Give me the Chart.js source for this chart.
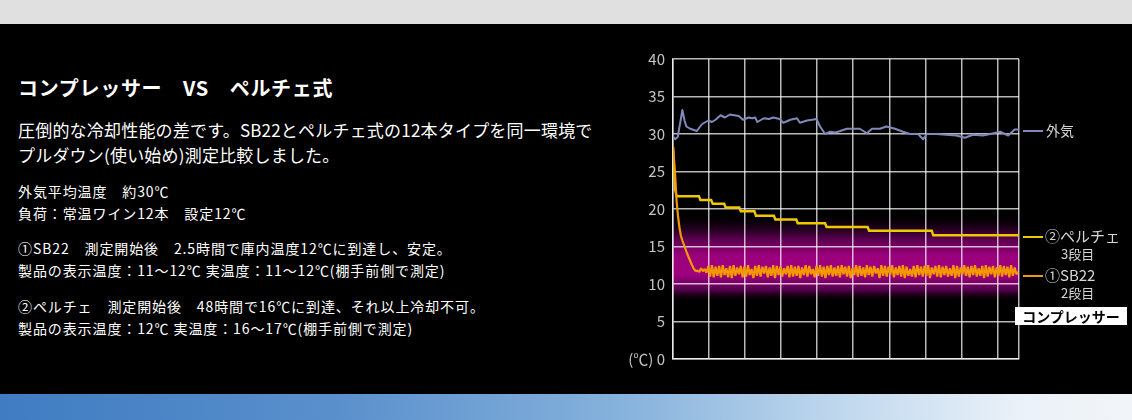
<!DOCTYPE html>
<html lang="ja">
<head>
<meta charset="utf-8">
<title>コンプレッサー VS ペルチェ式</title>
<script src="https://cdn.jsdelivr.net/npm/chart.js@4.4.1/dist/chart.umd.min.js"></script>
<style>
  html, body { margin: 0; padding: 0; background: #000; }
  body { width: 1132px; height: 420px; position: relative; overflow: hidden;
         font-family: "Noto Sans CJK JP", "Noto Sans", sans-serif; color: #fff; }
  #topbar { position: absolute; left: 0; top: 0; width: 1132px; height: 24px; background: #dfe0df; }
  #bottombar { position: absolute; left: 0; top: 394px; width: 1132px; height: 26px;
    background: linear-gradient(to right, #3f7cc2 0%, #5a90cc 30%, #86b2dc 55%, #c2d9ee 75%, #eaf1f8 90%, #f2f5f8 100%); }
  .t { position: absolute; white-space: nowrap; }
  #title { left: 18px; top: 74px; font-size: 20px; font-weight: bold; line-height: 28px; letter-spacing: 0.7px; }
  #lead { left: 18px; top: 117px; font-size: 17px; line-height: 25px; letter-spacing: 0.2px; }
  .small { font-size: 14px; line-height: 22px; left: 18px; letter-spacing: 0.9px; }
  #chartbox { position: absolute; left: 620px; top: 40px; width: 404px; height: 336px; }
  .lg { position: absolute; font-size: 14px; color: #d6d6d6; white-space: nowrap; line-height: 18px; }
  .dash { position: absolute; width: 20px; height: 2px; }
  #comp { position: absolute; left: 1015px; top: 307px; width: 112px; height: 18px; background: #fff;
    color: #000; font-weight: bold; font-size: 14px; line-height: 18px; text-align: center; }
</style>
</head>
<body>
<div id="topbar"></div>

<div class="t" id="title">コンプレッサー　VS　ペルチェ式</div>
<div class="t" id="lead">圧倒的な冷却性能の差です。SB22とペルチェ式の12本タイプを同一環境で<br>プルダウン(使い始め)測定比較しました。</div>
<div class="t small" style="top:180px">外気平均温度　約30℃<br>負荷：常温ワイン12本　設定12℃</div>
<div class="t small" style="top:237px">①SB22　測定開始後　2.5時間で庫内温度12℃に到達し、安定。<br>製品の表示温度：11〜12℃ 実温度：11〜12℃(棚手前側で測定)</div>
<div class="t small" style="top:295px">②ペルチェ　測定開始後　48時間で16℃に到達、それ以上冷却不可。<br>製品の表示温度：12℃ 実温度：16〜17℃(棚手前側で測定)</div>

<div id="chartbox"><canvas id="c"></canvas></div>

<div class="dash" style="left:1023px;top:130px;background:#7f8ab9"></div>
<div class="lg" style="left:1046px;top:121px">外気</div>
<div class="dash" style="left:1023px;top:236px;background:#f0c800"></div>
<div class="lg" style="left:1045px;top:227px;font-size:15px">②ペルチェ</div>
<div class="lg" style="left:1061px;top:245px;font-size:13px">3段目</div>
<div class="dash" style="left:1023px;top:275px;background:#f39800"></div>
<div class="lg" style="left:1045px;top:266px;font-size:15px">①SB22</div>
<div class="lg" style="left:1061px;top:284px;font-size:13px">2段目</div>
<div id="comp">コンプレッサー</div>

<div id="bottombar"></div>

<script>
// axis setup (hours on x, ℃ on y)
const xGridHours = [0, 5, 10, 15, 20, 25, 30, 35, 40, 45, 48]
const yTicks = [0, 5, 10, 15, 20, 25, 30, 35, 40]

// magenta band behind the compressor line (℃)
const bandTop = 19.5
const bandBottom = 7.5

// 外気 (outside air)
const outHours = [0, 0.3, 0.65, 1.0, 1.3, 1.6, 1.85, 2.4, 3.3, 4.0, 4.9, 5.4, 5.9, 6.6, 7.2, 7.9, 8.5, 9.1, 9.7,
  10.5, 11.0, 11.4, 11.7, 12.6, 13.3, 13.9, 14.8, 15.3, 16.3, 17.2, 17.6, 18.6, 19.3, 19.9, 20.4, 21.1, 21.8,
  22.5, 23.2, 24.1, 25.0, 25.9, 26.9, 27.6, 28.7, 29.6, 30.8, 31.9, 32.9, 34.0, 34.7, 35.2, 36.6, 37.9, 39.3,
  40.5, 41.6, 43.0, 44.0, 45.4, 46.5, 47.4, 48]
const outTemps = [29.7, 29.3, 29.6, 31.5, 33.2, 31.8, 31.0, 30.7, 30.4, 31.3, 31.8, 31.6, 31.9, 32.5, 32.2, 32.6, 32.5, 32.4, 31.9,
  32.2, 32.1, 32.2, 31.6, 32.1, 32.0, 32.2, 32.0, 31.5, 31.9, 32.1, 31.5, 31.8, 31.9, 32.0, 31.0, 30.0, 30.3,
  30.2, 30.4, 30.7, 30.7, 30.7, 30.1, 30.7, 30.7, 31.0, 30.7, 30.3, 30.0, 30.0, 29.3, 30.0, 30.0, 29.9, 29.8,
  29.5, 29.9, 29.8, 30.0, 30.3, 29.8, 30.6, 30.6]

// ②ペルチェ (3段目)
const pelHours = [0, 0.15, 0.3, 0.5, 3.6, 3.8, 5.3, 5.5, 7.1, 7.3, 9.2, 9.4, 11.3, 11.5, 14.0, 14.2,
  17.1, 17.3, 21.1, 21.3, 27.0, 27.2, 35.9, 36.1, 48]
const pelTemps = [28.3, 25.5, 22.6, 21.7, 21.7, 21.2, 21.2, 20.7, 20.7, 20.2, 20.2, 19.7, 19.7, 19.1, 19.1, 18.6,
  18.6, 18.1, 18.1, 17.6, 17.6, 17.1, 17.1, 16.5, 16.5]

// ①SB22 (2段目) - pull-down part
const sbDropHours = [0, 0.15, 0.3, 0.5, 0.7, 0.9, 1.1, 1.3, 1.6, 1.9, 2.2, 2.6, 2.9, 3.2]
const sbDropTemps = [28.3, 26.5, 24.5, 21.0, 19.0, 17.5, 16.4, 15.8, 15.0, 14.2, 13.5, 12.6, 12.0, 11.7]
// ①SB22 - logged every 15 min after that
const sbLogStart = 3.4
const sbLogStep = 0.25
const sbLogTemps = [
  11.8, 11.6, 12.1, 11.7, 12.0, 11.5, 12.4, 11.0, 12.5, 10.9,
  12.3, 11.1, 12.4, 10.9, 12.5, 11.2, 12.1, 10.9, 12.4, 10.8,
  12.5, 11.1, 12.2, 11.3, 12.4, 10.9, 12.3, 11.0, 12.5, 11.2,
  12.0, 10.8, 12.4, 11.1, 12.5, 11.0, 12.3, 11.4, 12.4, 10.9,
  12.2, 11.1, 12.5, 10.8, 12.4, 11.2, 12.3, 11.0, 12.1, 11.3,
  12.4, 10.9, 12.5, 11.0, 12.3, 11.1, 12.4, 10.8, 12.2, 11.2,
  12.5, 11.0, 12.4, 11.3, 12.0, 10.9, 12.4, 11.1, 12.5, 11.0,
  12.3, 10.8, 12.4, 11.2, 12.5, 11.0, 12.2, 11.1, 12.4, 10.9,
  12.5, 11.3, 12.3, 11.0, 12.4, 10.8, 12.1, 11.2, 12.5, 11.0,
  12.4, 11.1, 12.2, 10.9, 12.5, 11.2, 12.3, 11.0, 12.4, 11.4,
  12.1, 10.8, 12.5, 11.1, 12.4, 11.0, 12.3, 11.3, 12.5, 10.9,
  12.2, 11.2, 12.4, 11.0, 12.5, 10.8, 12.3, 11.1, 12.0, 11.0,
  12.4, 10.9, 12.5, 11.2, 12.3, 11.0, 12.4, 11.1, 12.5, 10.8,
  12.2, 11.3, 12.4, 11.0, 12.5, 10.9, 12.3, 11.2, 12.4, 11.0,
  12.1, 11.1, 12.5, 10.8, 12.4, 11.0, 12.2, 11.3, 12.5, 11.1,
  12.3, 10.9, 12.4, 11.2, 12.5, 11.0, 12.1, 11.1, 12.4, 10.8,
  12.5, 11.0, 12.3, 11.3, 12.4, 10.9, 12.2, 11.1, 12.5, 11.0,
  12.4, 11.2, 12.3, 10.9, 12.5, 11.1, 12.2, 11.3, 11.6
]

const pairs = (xs, ys) => xs.map((x, i) => ({ x: x, y: ys[i] }))
const sbPoints = pairs(sbDropHours, sbDropTemps)
  .concat(sbLogTemps.map((t, i) => ({ x: sbLogStart + i * sbLogStep, y: t })))

// magenta glow, painted first of all
const bandPlugin = {
  id: 'band',
  beforeDraw(chart) {
    const { ctx, chartArea, scales } = chart
    const yt = scales.y.getPixelForValue(bandTop)
    const yb = scales.y.getPixelForValue(bandBottom)
    const g = ctx.createLinearGradient(0, yt, 0, yb)
    g.addColorStop(0, 'rgba(0,0,0,0)')
    g.addColorStop(0.28, '#55004c')
    g.addColorStop(0.48, '#9c007c')
    g.addColorStop(0.68, '#a0007f')
    g.addColorStop(0.85, '#5a0050')
    g.addColorStop(1, 'rgba(0,0,0,0)')
    ctx.save()
    ctx.fillStyle = g
    ctx.fillRect(chartArea.left, yt, chartArea.right - chartArea.left, yb - yt)
    ctx.restore()
  }
}

// grid sits over the lines, slightly see-through
const gridColor = 'rgba(255,255,255,0.72)'

new Chart(document.getElementById('c'), {
  type: 'line',
  data: {
    datasets: [
      { label: '①SB22', data: sbPoints, borderColor: '#f39800', borderWidth: 2.2, borderJoinStyle: 'bevel', order: 0 },
      { label: '②ペルチェ', data: pairs(pelHours, pelTemps), borderColor: '#f0c800', borderWidth: 2.4, order: 1 },
      { label: '外気', data: pairs(outHours, outTemps), borderColor: '#7f8ab9', borderWidth: 2, borderJoinStyle: 'round', order: 2 }
    ]
  },
  options: {
    responsive: true,
    maintainAspectRatio: false,
    animation: false,
    layout: { padding: { top: 19, bottom: 14, left: 0, right: 5 } },
    elements: { point: { radius: 0 }, line: { tension: 0 } },
    plugins: { legend: { display: false }, tooltip: { enabled: false } },
    scales: {
      x: {
        type: 'linear', min: 0, max: 48, z: 1,
        afterBuildTicks: s => { s.ticks = xGridHours.map(v => ({ value: v })) },
        afterFit: s => { s.height = 0 },
        ticks: { display: false },
        grid: { color: gridColor, lineWidth: 1.5, drawTicks: false },
        border: { color: gridColor, width: 1.5 }
      },
      y: {
        min: 0, max: 40, z: 1,
        afterBuildTicks: s => { s.ticks = yTicks.map(v => ({ value: v })) },
        afterFit: s => { s.width = 53 },
        ticks: {
          color: '#c4c4c4', padding: 8,
          font: { family: '"Noto Sans CJK JP", "Noto Sans", sans-serif', size: 15 },
          callback: v => v === 0 ? '(℃) 0' : String(v)
        },
        grid: { color: gridColor, lineWidth: 1.5, drawTicks: false },
        border: { color: gridColor, width: 1.5 }
      }
    }
  },
  plugins: [bandPlugin]
})
</script>
</body>
</html>
